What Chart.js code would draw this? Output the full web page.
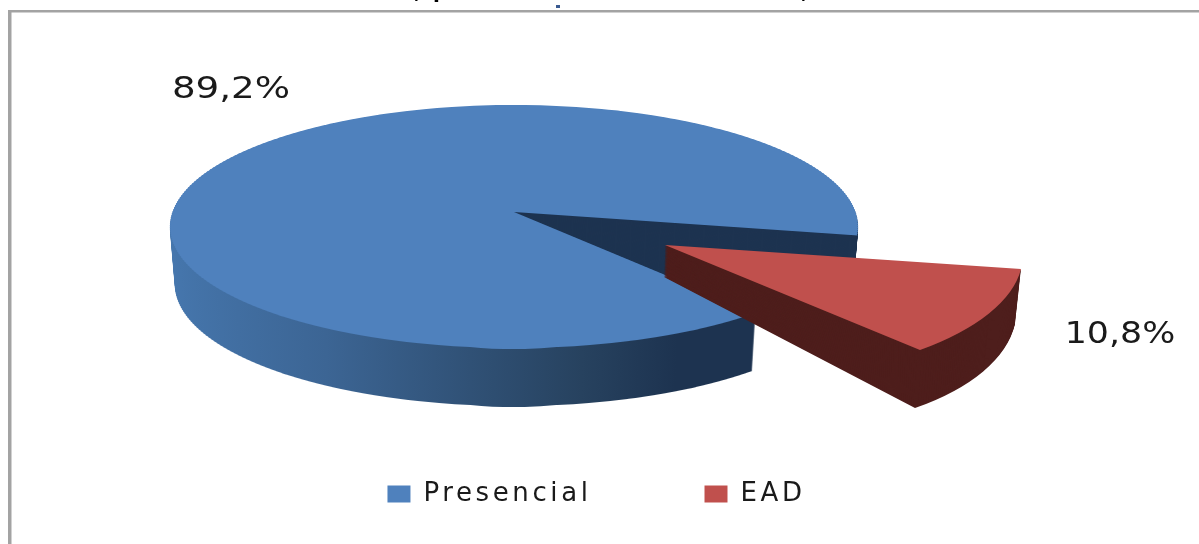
<!DOCTYPE html>
<html><head><meta charset="utf-8">
<style>html,body{margin:0;padding:0;background:#fff}#w{position:relative;width:1199px;height:544px;overflow:hidden}</style>
<script src="https://cdn.jsdelivr.net/npm/chart.js@4"></script></head>
<body><div id="w"><canvas id="c" width="1199" height="544"></canvas></div>
<script>
const categories = ['Presencial', 'EAD'];
const values = [89.2, 10.8];
const valueLabels = ['89,2%', '10,8%'];
const faceColors = ['#4F81BD', '#C0504D'];
const wallColors = ['#1D3350', '#4E1E1C'];

// look of the tilted disc
const disc = {cx: 514, cy: 226.5, rx: 344, ry: 121.5, apexY: 212, top: 105, bottom: 349, depth: 58};
const ecc = (disc.cy - disc.apexY) / disc.ry;
const startDeg = 139.9;
// exploded slice: where its apex and rim corners land, and how far each one drops for the wall
const slice = {apex: [665, 245], rimA: [1021, 269], rimB: [920, 350],
               apexDrop: [-1, 32], rimADrop: [-6, 55], rimBDrop: [-5, 58], steps: 58};

const FONT = '"DejaVu Sans",sans-serif';
const LEGEND_SIZE = 26, LEGEND_GAP = 113, LEGEND_Y = 494, LEGEND_SPACING = '3.6px';

function plainOpts(fill) {
  return {backgroundColor: fill, borderColor: fill, borderWidth: 0, offset: 0, spacing: 0,
          borderAlign: 'center', circular: true, borderRadius: 0, borderDash: [], borderDashOffset: 0, borderJoinStyle: 'round'};
}
function paint(ctx, arc, fill) {
  const saved = arc.options;
  arc.options = plainOpts(fill);
  arc.draw(ctx);
  arc.options = saved;
}
// screen row -> disc row of a perspective view of the disc
const rowT = Y => Math.max(-0.9995, Math.min(0.9995, (Y - disc.cy) / disc.ry));
const rowV = t => (t + ecc) / (1 + ecc * t);
function project(angle) {
  const u = Math.cos(angle), v = Math.sin(angle);
  const t = (v - ecc) / (1 - ecc * v);
  const k = Math.sqrt(1 - t * t) / Math.max(1e-3, Math.sqrt(1 - v * v));
  return [disc.cx + disc.rx * u * k, disc.cy + disc.ry * t];
}
function drawDisc(ctx, arc, dy, fill) {
  const R = arc.outerRadius, shrink = 1 - 0.0145 * dy / disc.depth;
  for (let Y = disc.top; Y < disc.bottom; Y += 2) {
    const t0 = rowT(Y), t1 = rowT(Y + 2), tm = rowT(Y + 1);
    const v0 = rowV(t0) * R, v1 = rowV(t1) * R, vm = rowV(tm);
    const s = Math.sqrt(1 - tm * tm) / Math.sqrt(1 - vm * vm) * disc.rx / R * shrink;
    ctx.save();
    ctx.beginPath(); ctx.rect(0, Y + dy, 1199, 2); ctx.clip();
    ctx.translate(disc.cx, Y + dy);
    ctx.scale(s, 2 / (v1 - v0));
    ctx.translate(-arc.x, -arc.y - v0);
    paint(ctx, arc, fill);
    ctx.restore();
  }
}
function drawSlice(ctx, arc, f, fill) {
  const R = arc.outerRadius;
  const ax = R * Math.cos(arc.startAngle), ay = R * Math.sin(arc.startAngle);
  const bx = R * Math.cos(arc.endAngle), by = R * Math.sin(arc.endAngle);
  const ox = slice.apex[0] + slice.apexDrop[0] * f, oy = slice.apex[1] + slice.apexDrop[1] * f;
  const px = slice.rimA[0] + slice.rimADrop[0] * f - ox, py = slice.rimA[1] + slice.rimADrop[1] * f - oy;
  const qx = slice.rimB[0] + slice.rimBDrop[0] * f - ox, qy = slice.rimB[1] + slice.rimBDrop[1] * f - oy;
  const det = ax * by - bx * ay;
  const m11 = (px * by - qx * ay) / det, m12 = (qx * ax - px * bx) / det;
  const m21 = (py * by - qy * ay) / det, m22 = (qy * ax - py * bx) / det;
  ctx.save();
  ctx.transform(m11, m21, m12, m22, ox, oy);
  ctx.translate(-arc.x, -arc.y);
  paint(ctx, arc, fill);
  ctx.restore();
}
function stretchedText(ctx, text, x, y, size, sx) {
  ctx.save();
  ctx.translate(x, y); ctx.scale(sx, 1);
  ctx.font = size + 'px ' + FONT;
  ctx.fillText(text, 0, 0);
  ctx.restore();
}
const pie3d = {
  id: 'pie3d',
  beforeLayout(chart) { chart.ctx.letterSpacing = LEGEND_SPACING; },
  afterLayout(chart) { chart.legend.top = LEGEND_Y - LEGEND_SIZE / 2 - LEGEND_GAP; },
  beforeDraw(chart) { chart.ctx.letterSpacing = LEGEND_SPACING; },
  beforeDatasetsDraw(chart) {
    const ctx = chart.ctx, [blue, red] = chart.getDatasetMeta(0).data;
    const g = ctx.createLinearGradient(blue.x - blue.outerRadius, 0, blue.x + blue.outerRadius * 0.68, 0);
    g.addColorStop(0, '#4677AE'); g.addColorStop(0.3, '#3C6594'); g.addColorStop(0.7, '#27425F'); g.addColorStop(0.85, '#1D3350'); g.addColorStop(1, '#1D3350');
    for (let d = disc.depth; d > 0; d--) drawDisc(ctx, blue, d, g);
    // inner wall seen through the cut, flat dark colour
    const pa = project(blue.endAngle), pb = project(blue.startAngle);
    const ap = [disc.cx, disc.apexY];
    ctx.save();
    ctx.beginPath();
    ctx.moveTo(ap[0], ap[1]);
    ctx.lineTo(ap[0] + (pa[0] - ap[0]) * 5, ap[1] + (pa[1] - ap[1]) * 5);
    ctx.lineTo(ap[0] + (pb[0] - ap[0]) * 5, ap[1] + (pb[1] - ap[1]) * 5);
    ctx.closePath(); ctx.clip();
    for (let d = disc.depth; d > 0; d--) drawDisc(ctx, blue, d, wallColors[0]);
    ctx.restore();
    drawDisc(ctx, blue, 0, faceColors[0]);
    for (let i = slice.steps; i > 0; i--) drawSlice(ctx, red, i / slice.steps, wallColors[1]);
    drawSlice(ctx, red, 0, faceColors[1]);
    return false;
  },
  afterDraw(chart) {
    const ctx = chart.ctx;
    ctx.save();
    ctx.letterSpacing = '0px';
    // frame of the picture
    ctx.fillStyle = '#A3A3A3';
    ctx.fillRect(8, 10, 1191, 2.5);
    ctx.fillRect(8, 10, 3.5, 534);
    // remains of the cropped title above the frame
    ctx.fillStyle = '#000';
    ctx.textAlign = 'left'; ctx.textBaseline = 'alphabetic';
    ctx.font = 'bold 20px ' + FONT;
    ctx.fillText(',', 414, -2);
    ctx.fillText('p', 433, -2);
    ctx.fillText(',', 801, -2);
    ctx.fillStyle = '#3A5A90';
    ctx.fillRect(556, 5, 4, 3);
    // value labels
    ctx.fillStyle = '#1a1a1a';
    ctx.textAlign = 'center'; ctx.textBaseline = 'middle';
    stretchedText(ctx, valueLabels[0], 231, 90, 30, 1.24);
    stretchedText(ctx, valueLabels[1], 1120, 335, 30, 1.16);
    ctx.restore();
  }
};
new Chart(document.getElementById('c'), {
  type: 'pie',
  data: {labels: categories, datasets: [{data: values, backgroundColor: faceColors, borderWidth: 0}]},
  options: {
    responsive: false, animation: false, radius: disc.rx, rotation: startDeg,
    layout: {padding: {right: 6}},
    plugins: {
      tooltip: {enabled: false},
      legend: {position: 'bottom', labels: {boxWidth: 23, boxHeight: 17, padding: LEGEND_GAP, color: '#1a1a1a', font: {family: FONT, size: LEGEND_SIZE}}}
    }
  },
  plugins: [pie3d]
});
</script></body></html>
